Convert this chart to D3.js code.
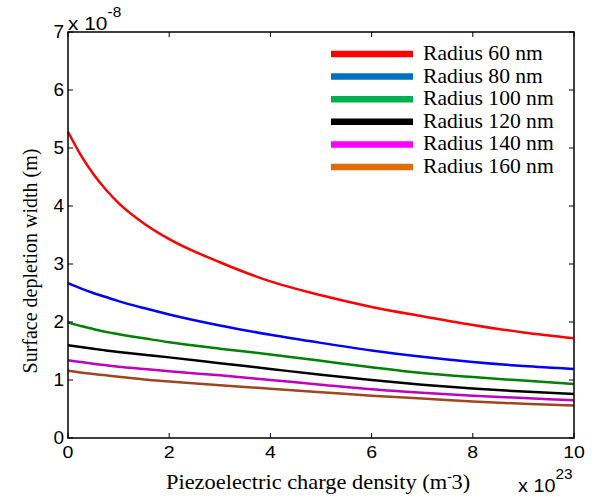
<!DOCTYPE html>
<html>
<head>
<meta charset="utf-8">
<script src="https://cdn.jsdelivr.net/npm/d3@7"></script>
<style>
  body { margin: 0; background: #fff; }
  svg text { fill: #000; }
</style>
</head>
<body>
<div id="chart"></div>
<script>
// charge density in units of 1e23 m^-3
var xs = [0, 0.25, 0.5, 0.75, 1, 1.5, 2, 3, 4, 5, 6, 7, 8, 9, 10];

// depletion width in units of 1e-8 m
var r60  = [5.28, 4.88, 4.55, 4.28, 4.05, 3.70, 3.43, 3.03, 2.70, 2.46, 2.26, 2.10, 1.95, 1.82, 1.72];
var r80  = [2.67, 2.58, 2.50, 2.43, 2.36, 2.24, 2.13, 1.94, 1.78, 1.64, 1.51, 1.40, 1.31, 1.24, 1.19];
var r100 = [1.99, 1.93, 1.88, 1.83, 1.79, 1.72, 1.65, 1.54, 1.44, 1.33, 1.22, 1.12, 1.05, 0.99, 0.93];
var r120 = [1.60, 1.568, 1.538, 1.51, 1.483, 1.435, 1.39, 1.29, 1.19, 1.09, 1.00, 0.92, 0.855, 0.80, 0.76];
var r140 = [1.34, 1.31, 1.28, 1.255, 1.23, 1.19, 1.15, 1.08, 1.00, 0.92, 0.84, 0.78, 0.73, 0.69, 0.65];
var r160 = [1.16, 1.13, 1.105, 1.08, 1.055, 1.01, 0.975, 0.91, 0.85, 0.79, 0.73, 0.68, 0.63, 0.59, 0.56];

var names = ["Radius 60 nm", "Radius 80 nm", "Radius 100 nm", "Radius 120 nm", "Radius 140 nm", "Radius 160 nm"];
var seriesVals = [r60, r80, r100, r120, r140, r160];
var lineColors = ["#ff0000", "#0000ff", "#008000", "#000000", "#c000c0", "#a0461e"];
var legendColors = ["#ff0000", "#0070c0", "#00b050", "#000000", "#ff00ff", "#e36c0a"];

var xTicks = [0, 2, 4, 6, 8, 10];
var yTicks = [0, 1, 2, 3, 4, 5, 6, 7];

const W = 600, H = 499;
const margin = {top: 32, right: 26, bottom: 61, left: 68};
const width = W - margin.left - margin.right;
const height = H - margin.top - margin.bottom;

var svg = d3.select('#chart').append('svg')
    .attr('width', W)
    .attr('height', H);

var g = svg.append('g')
    .attr('transform', 'translate(' + margin.left + ',' + margin.top + ')');

var x = d3.scaleLinear().domain([0, 10]).range([0, width]);
var y = d3.scaleLinear().domain([0, 7]).range([height, 0]);

const tickFont = '"Liberation Sans", Arial, sans-serif';
const serif = '"Liberation Serif", "Times New Roman", serif';

// curves
var line = d3.line()
    .curve(d3.curveMonotoneX)
    .x(d => x(d[0]))
    .y(d => y(d[1]));

seriesVals.forEach(function(vals, i){
    g.append('path')
        .datum(xs.map((v, j) => [v, vals[j]]))
        .attr('d', line)
        .attr('fill', 'none')
        .attr('stroke', lineColors[i])
        .attr('stroke-width', 2.5);
});

// box and ticks
g.append('rect')
    .attr('width', width).attr('height', height)
    .attr('fill', 'none').attr('stroke', '#000').attr('stroke-width', 1.5);

var tl = 5;
xTicks.forEach(function(t){
    g.append('line').attr('x1', x(t)).attr('x2', x(t)).attr('y1', height).attr('y2', height - tl)
        .attr('stroke', '#000');
    g.append('line').attr('x1', x(t)).attr('x2', x(t)).attr('y1', 0).attr('y2', tl)
        .attr('stroke', '#000');
    g.append('text')
        .attr('transform', 'translate(' + x(t) + ',' + (height + 20) + ') scale(1.15,1)')
        .attr('text-anchor', 'middle')
        .style('font-family', tickFont).style('font-size', '17px')
        .text(t);
});
yTicks.forEach(function(t){
    g.append('line').attr('x1', 0).attr('x2', tl).attr('y1', y(t)).attr('y2', y(t))
        .attr('stroke', '#000');
    g.append('line').attr('x1', width).attr('x2', width - tl).attr('y1', y(t)).attr('y2', y(t))
        .attr('stroke', '#000');
    g.append('text')
        .attr('x', -4).attr('y', y(t) + 6)
        .attr('text-anchor', 'end')
        .style('font-family', tickFont).style('font-size', '19px')
        .text(t);
});

// exponent labels
var ey = svg.append('text')
    .attr('transform', 'translate(' + margin.left + ',30) scale(1.1,1)')
    .style('font-family', tickFont).style('font-size', '19px');
ey.append('tspan').text('x 10');
ey.append('tspan').attr('dy', -13).style('font-size', '14px').text('-8');

var ex = svg.append('text')
    .attr('transform', 'translate(518,492) scale(1.1,1)')
    .style('font-family', tickFont).style('font-size', '18px');
ex.append('tspan').text('x 10');
ex.append('tspan').attr('dy', -13).style('font-size', '14px').text('23');

// axis titles
var xl = svg.append('text')
    .attr('transform', 'translate(166,489) scale(1.12,1)')
    .style('font-family', serif).style('font-size', '20px');
xl.append('tspan').text('Piezoelectric charge density (m');
xl.append('tspan').attr('dy', -8).style('font-size', '12px').text('-');
xl.append('tspan').attr('dy', 8).text('3)');

svg.append('text')
    .attr('transform', 'translate(37,261) rotate(-90)')
    .attr('text-anchor', 'middle')
    .style('font-family', serif).style('font-size', '20px')
    .text('Surface depletion width (m)');

// legend
var legend = svg.append('g');
names.forEach(function(n, i){
    var ly = 54 + i * 22.6;
    legend.append('line')
        .attr('x1', 331).attr('x2', 413)
        .attr('y1', ly).attr('y2', ly)
        .attr('stroke', legendColors[i])
        .attr('stroke-width', 6.5);
    legend.append('text')
        .attr('transform', 'translate(423,' + (ly + 6) + ') scale(1.08,1)')
        .style('font-family', serif).style('font-size', '20px')
        .text(n);
});
</script>
</body>
</html>
